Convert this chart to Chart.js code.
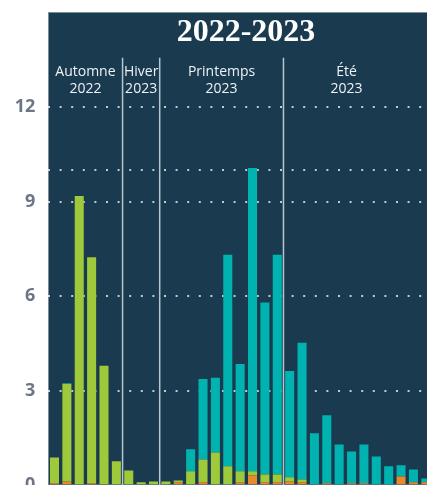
<!DOCTYPE html>
<html>
<head>
<meta charset="utf-8">
<script src="https://cdn.jsdelivr.net/npm/chart.js@4/dist/chart.umd.min.js"></script>
<style>
  html, body { margin: 0; padding: 0; background: #ffffff; overflow: hidden; width: 427px; height: 485px; }
  #wrap { width: 427px; height: 485px; overflow: hidden; position: relative; }
  canvas { display: block; position: absolute; left: 0; top: -11px; }
</style>
</head>
<body>
<div id="wrap"><canvas id="c" width="432" height="520" style="width:432px;height:520px"></canvas></div>
<script>
// ---- data ----
const categories = ["1","2","3","4","5","6","7","8","9","10","11","12","13","14","15","16","17","18","19","20","21","22","23","24","25","26","27","28","29","30","31"];
const orangeValues = [0.06,0.12,0,0.06,0,0,0,0,0,0,0.09,0,0.09,0,0,0.09,0.31,0.09,0.09,0.12,0.09,0,0.06,0,0.06,0.06,0,0,0.28,0.09,0.09];
const greenValues  = [0.82,3.09,9.18,7.18,3.79,0.76,0.47,0.09,0.12,0.12,0.06,0.44,0.73,1.04,0.6,0.35,0.13,0.25,0.25,0.13,0.09,0.03,0,0,0,0,0,0,0,0,0];
const tealValues   = [0,0.03,0,0,0,0,0,0,0,0,0,0.70,2.55,2.37,6.72,3.41,9.63,5.46,6.98,3.38,4.34,1.62,2.16,1.29,1.01,1.23,0.91,0.6,0.35,0.41,0.12];
const tickValues = [0,3,6,9,10,12];
const tickLabels = ["0","3","6","9","","12"];
const seasonNames = [["Automne","2022"],["Hiver","2023"],["Printemps","2023"],["Été","2023"]];
const seasonStarts = [0,6,9,19];
const seasonCenters = [2.5,7,13.5,23.6];
const titleText = "2022-2023";

const panelPlugin = {
  id: 'panel',
  beforeDraw(chart) {
    const {ctx, chartArea: a} = chart;
    ctx.save();
    ctx.fillStyle = '#1a3b4f';
    ctx.fillRect(a.left, a.top, a.right - a.left, a.bottom - a.top);
    ctx.strokeStyle = '#7c8d9a';
    ctx.lineWidth = 1;
    ctx.strokeRect(Math.round(a.left) + 0.5, Math.round(a.top) - 0.5, a.right - a.left, a.bottom - a.top);
    ctx.restore();
  },
  afterDatasetsDraw(chart) {
    const {ctx, chartArea: a} = chart;
    const x = chart.scales.x;
    const x0 = x.getPixelForValue(0);
    const step = x.getPixelForValue(1) - x0;
    const px = (v) => x0 + v * step;
    ctx.save();
    // separators
    ctx.strokeStyle = '#b9c5cd';
    ctx.lineWidth = 1.5;
    seasonStarts.slice(1).forEach(s => {
      const xx = px(s - 0.5);
      ctx.beginPath();
      ctx.moveTo(xx, a.top + 45);
      ctx.lineTo(xx, a.bottom);
      ctx.stroke();
    });
    // season labels
    ctx.fillStyle = '#eef2f5';
    ctx.font = '14px "Open Sans"';
    ctx.textAlign = 'center';
    ctx.textBaseline = 'middle';
    seasonNames.forEach((lines, i) => {
      const cx = px(seasonCenters[i]);
      ctx.fillText(lines[0], cx, a.top + 59);
      ctx.fillText(lines[1], cx, a.top + 76);
    });
    // title
    ctx.fillStyle = '#ffffff';
    ctx.font = 'bold 32px "Liberation Serif"';
    ctx.fillText(titleText, 246, a.top + 20);
    ctx.restore();
  }
};

new Chart(document.getElementById('c'), {
  type: 'bar',
  data: {
    labels: categories,
    datasets: [
      { label: 'orange', data: orangeValues, backgroundColor: '#e8892b' },
      { label: 'vert', data: greenValues, backgroundColor: '#9dc93b' },
      { label: 'turquoise', data: tealValues, backgroundColor: '#00b3b0' }
    ]
  },
  options: {
    responsive: false,
    animation: false,
    devicePixelRatio: 1,
    layout: { padding: 0 },
    datasets: { bar: { categoryPercentage: 1, barPercentage: 0.73, borderWidth: 0 } },
    plugins: { legend: { display: false }, tooltip: { enabled: false }, title: { display: false } },
    scales: {
      x: { stacked: true, display: false },
      y: {
        stacked: true,
        min: 0, max: 15,
        afterBuildTicks(scale) { scale.ticks = tickValues.map(v => ({ value: v })); },
        afterFit(scale) { scale.width = 48.3; },
        border: { display: false, dash: [2, 9.6] },
        grid: {
          drawTicks: false,
          lineWidth: 2,
          color: (c) => (c.tick && c.tick.value === 0) ? 'rgba(0,0,0,0)' : 'rgba(235,240,245,0.8)'
        },
        ticks: {
          padding: 13,
          color: '#6c7686',
          font: { family: '"Open Sans"', size: 18, weight: 'bold' },
          callback: (v) => tickLabels[tickValues.indexOf(v)]
        }
      }
    }
  },
  plugins: [panelPlugin]
});
</script>
</body>
</html>
